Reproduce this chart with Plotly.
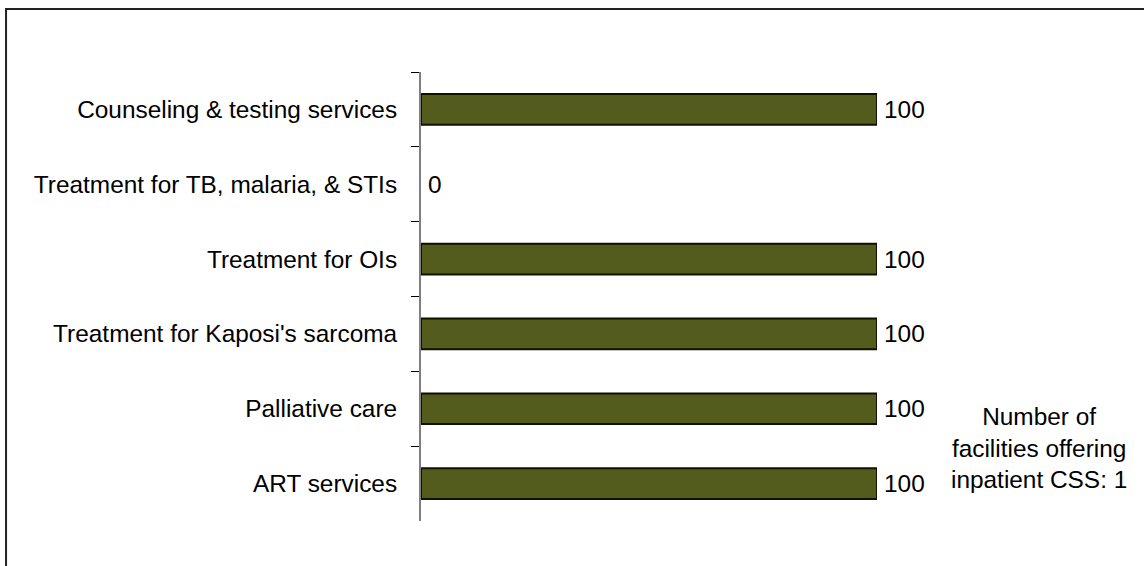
import plotly.graph_objects as go

categories = [
    "Counseling & testing services",
    "Treatment for TB, malaria, & STIs",
    "Treatment for OIs",
    "Treatment for Kaposi's sarcoma",
    "Palliative care",
    "ART services",
]
values = [100, 0, 100, 100, 100, 100]
value_labels = ["100", "0", "100", "100", "100", "100"]
note_text = "Number of<br>facilities offering<br>inpatient CSS: 1"

FONT = "Arial, 'Liberation Sans', sans-serif"
FS = 24.4

fig = go.Figure(
    go.Bar(
        y=categories,
        x=values,
        orientation="h",
        marker=dict(
            color="#535B1D",
            line=dict(color="#111100", width=[2 if v > 0 else 0 for v in values]),
        ),
        width=0.41,
        hoverinfo="x+y",
    )
)

annotations = [
    dict(
        x=v,
        y=c,
        xref="x",
        yref="y",
        text=t,
        showarrow=False,
        xanchor="left",
        yanchor="middle",
        xshift=5,
        font=dict(size=FS, color="#000000", family=FONT),
    )
    for c, v, t in zip(categories, values, value_labels)
]
annotations.append(
    dict(
        text=note_text,
        xref="paper",
        yref="paper",
        x=1.355,
        y=0.1626,
        xanchor="center",
        yanchor="middle",
        showarrow=False,
        align="center",
        font=dict(size=FS, color="#000000", family=FONT),
    )
)

fig.update_layout(
    width=1144,
    height=566,
    margin=dict(l=421, r=267, t=72, b=45),
    paper_bgcolor="white",
    plot_bgcolor="white",
    showlegend=False,
    font=dict(family=FONT, size=FS, color="#000000"),
    xaxis=dict(
        range=[0, 100],
        visible=False,
        showgrid=False,
        zeroline=False,
    ),
    yaxis=dict(
        type="category",
        categoryorder="array",
        categoryarray=categories,
        autorange="reversed",
        showline=True,
        linecolor="#808080",
        linewidth=2,
        ticks="outside",
        tickson="boundaries",
        ticklen=8,
        tickcolor="#000000",
        tickwidth=1,
        ticklabelstandoff=17,
        showgrid=False,
        zeroline=False,
        tickfont=dict(size=FS, color="#000000", family=FONT),
    ),
    shapes=[
        dict(
            type="rect",
            xref="paper",
            yref="paper",
            x0=-0.910,
            x1=1.62,
            y0=-0.13,
            y1=1.1403,
            line=dict(color="#222222", width=2),
            fillcolor="rgba(0,0,0,0)",
            layer="below",
        )
    ],
    annotations=annotations,
)

fig.write_html(
    "out.html",
    config={"displayModeBar": False},
    post_script="document.body.style.margin='0';document.body.style.overflow='hidden';",
)
